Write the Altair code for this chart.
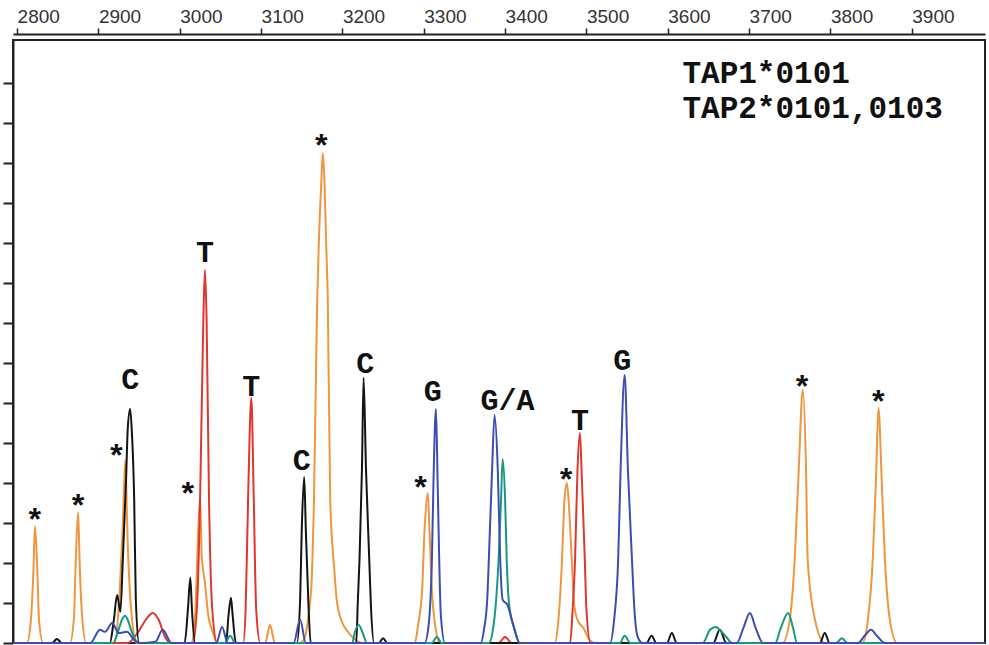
import altair as alt
import pandas as pd

# ---- dye traces (scan number, signal) ----
ORANGE_X = [2795, 2812, 2817, 2820, 2822, 2825, 2827, 2832,
            2865, 2870, 2872, 2875, 2877, 2880, 2885,
            2920, 2925, 2930, 2933, 2936, 2940, 2947,
            3014, 3019, 3022, 3025, 3027, 3031, 3035, 3041, 3046,
            3105, 3111, 3117,
            3148, 3154, 3158, 3162, 3165, 3169, 3171, 3174, 3176, 3178, 3180, 3182, 3185, 3190, 3193, 3199, 3206, 3215, 3224,
            3289, 3293, 3298, 3301, 3305, 3307, 3310, 3314, 3320,
            3461, 3465, 3470, 3473, 3476, 3478, 3482, 3485, 3489, 3496, 3504, 3510,
            3741, 3750, 3756, 3761, 3766, 3770, 3772, 3781, 3793,
            3839, 3846, 3852, 3856, 3859, 3863, 3867, 3873, 3882,
            3990]
ORANGE_Y = [0, 0, 58, 175, 292, 175, 58, 0,
            0, 65, 196, 327, 196, 65, 0,
            0, 91, 297, 457, 251, 91, 0,
            0, 73, 237, 365, 219, 150, 70, 25, 0,
            0, 45, 0,
            0, 15, 65, 150, 358, 858, 1000, 1150, 1225, 1150, 1000, 858, 358, 183, 108, 55, 30, 10, 0,
            0, 45, 133, 283, 375, 283, 133, 45, 0,
            0, 45, 208, 358, 400, 358, 208, 95, 58, 38, 8, 0,
            0, 58, 208, 433, 633, 433, 208, 58, 0,
            0, 58, 208, 408, 588, 408, 208, 58, 0,
            0]

RED_X = [2795, 2936, 2949, 2960, 2967, 2974, 2982, 2988,
         3016, 3021, 3025, 3029, 3031, 3033, 3036, 3040, 3046,
         3078, 3081, 3084, 3088, 3091, 3094, 3099,
         3392, 3400, 3408,
         3480, 3483, 3486, 3489, 3492, 3494, 3498, 3500, 3505,
         3990]
RED_Y = [0, 0, 28, 63, 75, 58, 15, 0,
         0, 83, 358, 808, 933, 808, 358, 83, 0,
         0, 83, 358, 613, 358, 83, 0,
         0, 15, 0,
         0, 83, 208, 433, 525, 433, 208, 83, 0,
         0]

BLACK_X = [2795, 2843, 2849, 2855,
           2914, 2919, 2923, 2927, 2930, 2934, 2936, 2939, 2941, 2944, 2946, 2950,
           3006, 3010, 3013, 3015, 3019,
           3057, 3060, 3063, 3065, 3069,
           3144, 3148, 3150, 3153, 3155, 3158, 3161,
           3217, 3219, 3221, 3224, 3226, 3229, 3233, 3235, 3239,
           3245, 3250, 3255,
           3574, 3580, 3586, 3599, 3605, 3611,
           3656, 3664, 3672,
           3787, 3793, 3799,
           3990]
BLACK_Y = [0, 0, 10, 0,
           0, 58, 120, 78, 208, 408, 533, 585, 533, 358, 108, 0,
           0, 83, 163, 83, 0,
           0, 70, 113, 70, 0,
           0, 108, 283, 415, 283, 108, 0,
           0, 108, 208, 433, 663, 433, 208, 95, 0,
           0, 12, 0,
           0, 18, 0, 0, 25, 0,
           0, 33, 0,
           0, 25, 0,
           0]

GREEN_X = [2795, 2918, 2924, 2929, 2933, 2936, 2941, 2949,
           3056, 3062, 3068,
           3212, 3215, 3220, 3225, 3230,
           3310, 3316, 3322,
           3380, 3385, 3389, 3392, 3395, 3397, 3400, 3402, 3405, 3411, 3418,
           3541, 3547, 3554,
           3643, 3652, 3659, 3666, 3672, 3679,
           3732, 3739, 3748, 3754, 3759,
           3807, 3814, 3821,
           3990]
GREEN_Y = [0, 0, 28, 58, 68, 58, 28, 0,
           0, 18, 0,
           0, 25, 45, 25, 0,
           0, 15, 0,
           0, 33, 108, 208, 358, 460, 358, 208, 95, 38, 0,
           0, 18, 0,
           0, 33, 40, 28, 15, 0,
           0, 38, 75, 38, 0,
           0, 12, 0,
           0]

BLUE_X = [2795, 2890, 2902, 2908, 2917, 2925, 2935, 2945, 2952, 2970, 2979, 2990,
          3045, 3052, 3059,
          3140, 3148, 3155,
          3301, 3306, 3310, 3312, 3315, 3317, 3319, 3321, 3326,
          3370, 3374, 3378, 3380, 3384, 3387, 3391, 3394, 3397, 3403, 3410, 3418,
          3529, 3534, 3539, 3542, 3547, 3551, 3556, 3559, 3563, 3569,
          3685, 3693, 3701, 3708, 3717,
          3834, 3842, 3850, 3857, 3867,
          3990]
BLUE_Y = [0, 0, 33, 28, 50, 25, 28, 5, 0, 3, 33, 0,
          0, 40, 0,
          0, 58, 0,
          0, 45, 208, 408, 585, 408, 208, 70, 0,
          0, 33, 108, 208, 433, 570, 433, 208, 108, 95, 45, 0,
          0, 58, 208, 433, 670, 433, 208, 83, 15, 0,
          0, 38, 75, 38, 0,
          0, 18, 33, 18, 0,
          0]

# ---- annotations ----
BASE_CALLS = ["C", "T", "T", "C", "C", "G", "G/A", "T", "G"]
BASE_X = [2939, 3031, 3088, 3150, 3228, 3311, 3403, 3492, 3544]
BASE_Y = [660, 978, 643, 458, 700, 630, 608, 558, 708]

STAR_X = [2822, 2875, 2922, 3010, 3174, 3296, 3475, 3765, 3859]
STAR_Y = [323, 358, 483, 388, 1258, 403, 423, 655, 618]

ALLELES = ["TAP1*0101", "TAP2*0101,0103"]
ALLELE_X = [3618, 3618]
ALLELE_Y = [1426, 1338]

SCAN_TICKS = list(range(2800, 4000, 100))
SIGNAL_TICKS = list(range(0, 1500, 100))

x_scale = alt.Scale(domain=[2795, 3990], nice=False)
y_scale = alt.Scale(domain=[0, 1507.5], nice=False)

x_axis = alt.Axis(orient="top", values=SCAN_TICKS, format="d", title=None, grid=False,
                  labelAlign="left", labelBaseline="alphabetic", labelPadding=6,
                  labelFont="Liberation Sans", labelFontSize=19, labelColor="#333333",
                  tickSize=6, tickWidth=1.5, tickColor="#222222",
                  domainColor="#222222", domainWidth=2, offset=6, labelFlush=False,
                  labelOverlap=False)
y_axis = alt.Axis(orient="left", values=SIGNAL_TICKS, labels=False, title=None, grid=False,
                  tickSize=10, tickWidth=2, tickColor="#222222",
                  domainColor="#222222", domainWidth=2)

X = alt.X("scan:Q", scale=x_scale, axis=x_axis)
Y = alt.Y("signal:Q", scale=y_scale, axis=y_axis)

traces = [
    (ORANGE_X, ORANGE_Y, "#f0963e"),
    (RED_X, RED_Y, "#e0372c"),
    (BLACK_X, BLACK_Y, "#141414"),
    (GREEN_X, GREEN_Y, "#17987f"),
    (BLUE_X, BLUE_Y, "#3b4db4"),
]

layers = []
for xs, ys, color in traces:
    df = pd.DataFrame({"scan": xs, "signal": ys})
    layers.append(
        alt.Chart(df).mark_line(color=color, strokeWidth=2, interpolate="monotone")
        .encode(x=X, y=Y)
    )

text_style = dict(font="Liberation Mono", fontWeight="bold", color="#111111",
                  baseline="alphabetic")

calls = alt.Chart(pd.DataFrame({"scan": BASE_X, "signal": BASE_Y, "call": BASE_CALLS})).mark_text(
    align="center", dy=10, fontSize=30, **text_style).encode(x=X, y=Y, text="call:N")
stars = alt.Chart(pd.DataFrame({"scan": STAR_X, "signal": STAR_Y, "call": ["*"] * len(STAR_X)})).mark_text(
    align="center", dy=17, fontSize=32, **text_style).encode(x=X, y=Y, text="call:N")
alleles = alt.Chart(pd.DataFrame({"scan": ALLELE_X, "signal": ALLELE_Y, "call": ALLELES})).mark_text(
    align="left", dy=10, fontSize=31, **text_style).encode(x=X, y=Y, text="call:N")

chart = alt.layer(*layers, calls, stars, alleles).properties(
    width=972, height=603,
    autosize=alt.AutoSizeParams(type="none"),
    padding={"left": 13, "top": 40, "right": 4, "bottom": 2},
    background="white",
).configure_view(stroke="#222222", strokeWidth=2)

chart.save("out.html", embed_options={"renderer": "svg", "actions": False})
